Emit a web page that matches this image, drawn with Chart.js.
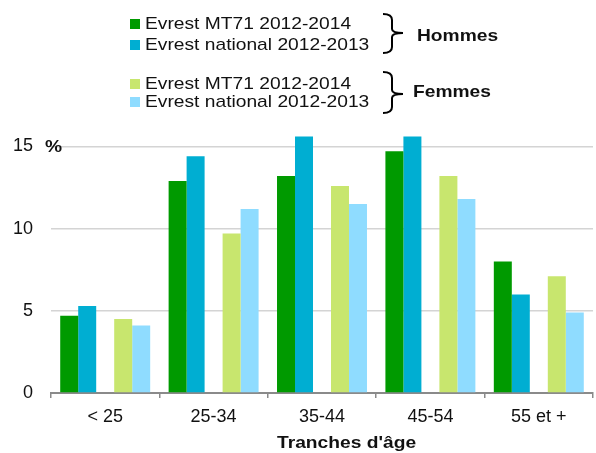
<!DOCTYPE html>
<html>
<head>
<meta charset="utf-8">
<script src="https://cdn.jsdelivr.net/npm/chart.js@4/dist/chart.umd.min.js"></script>
<style>
  html, body { margin: 0; padding: 0; background: #fff; }
  #wrap { position: relative; width: 596px; height: 453px; overflow: hidden; font-family: "Liberation Sans", Arial, sans-serif; color: #111; }
  #chart { position: absolute; left: 0; top: 0; }
  .lbl { position: absolute; font-size: 17px; line-height: 20px; white-space: nowrap; transform-origin: 0 50%; transform: scaleX(1.13); }
  .sw { position: absolute; width: 10px; height: 10px; }
  .b { font-weight: bold; }
</style>
</head>
<body>
<div id="wrap">
  <canvas id="chart" width="596" height="453"></canvas>
  <div id="legend"></div>
  <svg width="596" height="120" style="position:absolute;left:0;top:0" fill="none" stroke="#000" stroke-width="2">
    <path d="M383 14 Q392 14 392 20 L392 29 Q392 33 403 33 Q392 33 392 37 L392 47 Q392 53 383 53" />
    <path d="M383 72 Q392 72 392 78 L392 90 Q392 94 403 94 Q392 94 392 98 L392 107 Q392 113 383 113" />
  </svg>
  <div class="lbl b" style="left:417px;top:26px">Hommes</div>
  <div class="lbl b" style="left:413px;top:82px">Femmes</div>
  <div class="lbl b" style="left:45px;top:137px">%</div>
  <div class="lbl b" style="left:277px;top:433px">Tranches d'âge</div>
</div>
<script>
// categories and values (%)
const categories = ["< 25", "25-34", "35-44", "45-54", "55 et +"];
const hommesMT71 = [4.7, 12.9, 13.2, 14.7, 8.0];
const hommesNational = [5.3, 14.4, 15.6, 15.6, 6.0];
const femmesMT71 = [4.5, 9.7, 12.6, 13.2, 7.1];
const femmesNational = [4.1, 11.2, 11.5, 11.8, 4.9];
const yTicks = [0, 5, 10, 15];

const seriesLabels = [
  "Evrest MT71 2012-2014",
  "Evrest national 2012-2013",
  "Evrest MT71 2012-2014",
  "Evrest national 2012-2013"
];
const colors = ["#009a00", "#00aed2", "#c8e66e", "#8fdcff"];

// legend rows (html)
const legend = document.getElementById("legend");
const rowY = [24, 45, 84, 102];
seriesLabels.forEach((txt, i) => {
  const sw = document.createElement("div");
  sw.className = "sw";
  sw.style.left = "130px";
  sw.style.top = (rowY[i] - 5) + "px";
  sw.style.background = colors[i];
  legend.appendChild(sw);
  const t = document.createElement("div");
  t.className = "lbl";
  t.style.left = "145px";
  t.style.top = (rowY[i] - 10) + "px";
  t.textContent = txt;
  legend.appendChild(t);
});

Chart.defaults.font.family = '"Liberation Sans", Arial, sans-serif';
Chart.defaults.color = "#111";

const bar = (data, color) => ({
  data,
  backgroundColor: color,
  borderWidth: 0,
  categoryPercentage: 0.83,
  barPercentage: 1
});

new Chart(document.getElementById("chart"), {
  type: "bar",
  data: {
    labels: categories,
    datasets: [
      bar(hommesMT71, colors[0]),
      bar(hommesNational, colors[1]),
      bar(categories.map(() => null), "rgba(0,0,0,0)"), // empty slot between the pairs
      bar(femmesMT71, colors[2]),
      bar(femmesNational, colors[3])
    ]
  },
  options: {
    responsive: false,
    animation: false,
    layout: { padding: { top: 130, right: 3, bottom: 0, left: 0 } },
    plugins: { legend: { display: false }, tooltip: { enabled: false } },
    scales: {
      x: {
        afterFit: s => { s.height = 60; },
        grid: { display: true, drawOnChartArea: false, tickLength: 5, color: "#8a8a8a", lineWidth: 1.5 },
        border: { color: "#8a8a8a", width: 2 },
        ticks: { font: { size: 18 }, padding: 8, color: "#111" }
      },
      y: {
        min: 0,
        max: 16,
        afterFit: s => { s.width = 51; },
        afterBuildTicks: s => { s.ticks = yTicks.map(v => ({ value: v })); },
        grid: {
          drawTicks: false,
          color: ctx => (ctx.tick && ctx.tick.value === 0 ? "rgba(0,0,0,0)" : "#d4d4d4"),
          lineWidth: 1.5
        },
        border: { display: false },
        ticks: { font: { size: 18 }, padding: 18, color: "#111" }
      }
    }
  }
});
</script>
</body>
</html>
